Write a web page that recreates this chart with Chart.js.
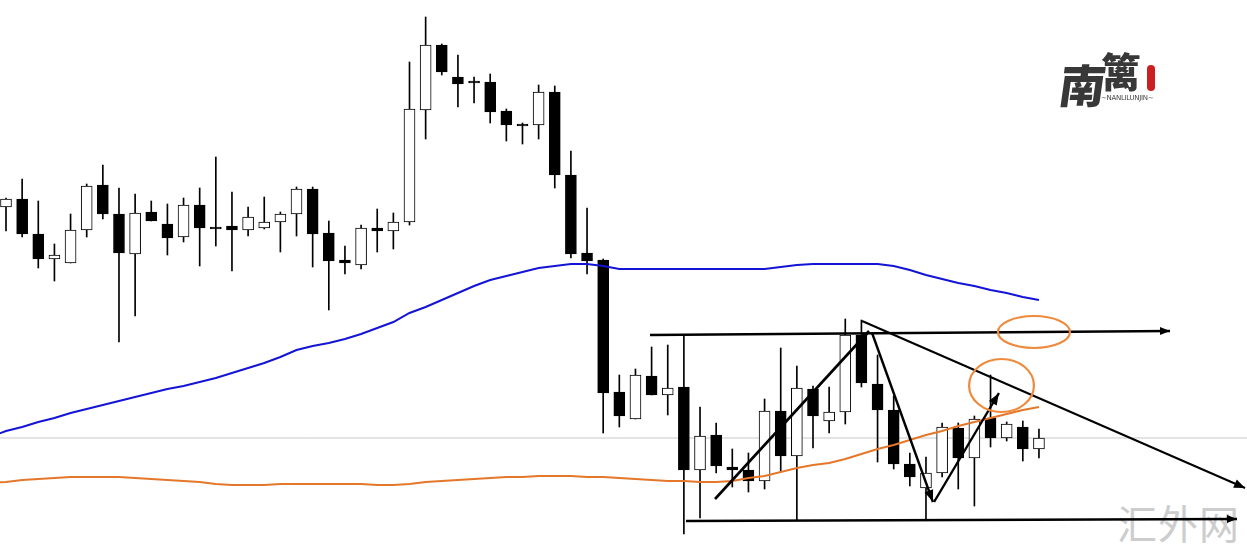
<!DOCTYPE html>
<html><head><meta charset="utf-8">
<script src="https://cdn.jsdelivr.net/npm/chart.js@4"></script>
<style>
html,body{margin:0;padding:0;background:#fff;}
#wrap{position:relative;width:1247px;height:558px;overflow:hidden;background:#fff;}
#c{position:absolute;left:0;top:0;z-index:1;}
.wm{position:absolute;left:1117px;top:500px;font:40px "Noto Sans CJK SC";color:#cdcdcd;z-index:0;letter-spacing:1px;line-height:1.1;}
.c1{position:absolute;left:1060px;top:60px;font:900 46px "Noto Sans CJK SC";color:#383838;z-index:2;line-height:1;transform:skewX(-8deg);}
.c2{position:absolute;left:1101px;top:50px;font:900 40px "Noto Sans CJK SC";color:#383838;z-index:2;line-height:1;}
.sub{position:absolute;left:1101px;top:94px;font:7px "DejaVu Sans";color:#444;z-index:2;letter-spacing:-0.3px;background:#fff;}
.seal{position:absolute;left:1147px;top:65px;width:8px;height:26px;background:#cc1f1f;border-radius:4px;z-index:2;}
</style></head>
<body>
<div id="wrap">
  <div class="wm">汇外网</div>
  <canvas id="c" width="1247" height="558"></canvas>
  <div class="c1">南</div>
  <div class="c2">篱</div>
  <div class="sub">~NANLILUNJIN~</div>
  <div class="seal"></div>
</div>
<script>
// ---- candle data (OHLC), one entry per bar ----
const open  = [1.1351,1.1359,1.1324,1.1299,1.1295,1.1328,1.1373,1.1344,1.1304,1.1346,1.1334,1.1321,1.1353,1.1331,1.1332,1.1328,1.1330,1.1336,1.1344,1.1369,1.1325,1.1298,1.1293,1.1330,1.1327,1.1336,1.1448,1.1513,1.1481,1.1477,1.1476,1.1447,1.1434,1.1433,1.1466,1.1383,1.1305,1.1298,1.1166,1.1139,1.1182,1.1163,1.1171,1.1088,1.1123,1.1091,1.1088,1.1077,1.1147,1.1102,1.1169,1.1137,1.1146,1.1223,1.1174,1.1148,1.1094,1.1070,1.1085,1.1130,1.1100,1.1140,1.1120,1.1131,1.1109];
const high  = [1.1360,1.1379,1.1357,1.1314,1.1344,1.1374,1.1393,1.1370,1.1364,1.1357,1.1354,1.1360,1.1370,1.1401,1.1366,1.1351,1.1361,1.1346,1.1371,1.1371,1.1337,1.1312,1.1333,1.1349,1.1345,1.1496,1.1541,1.1514,1.1503,1.1481,1.1484,1.1449,1.1435,1.1473,1.1472,1.1407,1.1350,1.1299,1.1183,1.1189,1.1211,1.1213,1.1222,1.1151,1.1135,1.1109,1.1105,1.1159,1.1210,1.1192,1.1172,1.1171,1.1239,1.1238,1.1203,1.1162,1.1105,1.1101,1.1135,1.1135,1.1142,1.1183,1.1136,1.1137,1.1129];
const low   = [1.1327,1.1321,1.1290,1.1277,1.1295,1.1321,1.1339,1.1216,1.1242,1.1337,1.1303,1.1316,1.1292,1.1312,1.1287,1.1322,1.1329,1.1306,1.1322,1.1291,1.1248,1.1284,1.1289,1.1306,1.1309,1.1333,1.1419,1.1483,1.1451,1.1455,1.1435,1.1417,1.1414,1.1419,1.1370,1.1300,1.1284,1.1125,1.1131,1.1139,1.1163,1.1143,1.1024,1.1040,1.1085,1.1071,1.1066,1.1069,1.1087,1.1038,1.1110,1.1125,1.1134,1.1171,1.1096,1.1089,1.1072,1.1038,1.1081,1.1069,1.1052,1.1111,1.1117,1.1097,1.1100];
const close = [1.1359,1.1324,1.1299,1.1303,1.1328,1.1372,1.1344,1.1305,1.1345,1.1337,1.1320,1.1353,1.1330,1.1329,1.1328,1.1341,1.1336,1.1344,1.1369,1.1324,1.1297,1.1295,1.1330,1.1327,1.1336,1.1449,1.1513,1.1486,1.1474,1.1475,1.1446,1.1433,1.1432,1.1466,1.1383,1.1304,1.1297,1.1165,1.1142,1.1183,1.1163,1.1170,1.1088,1.1122,1.1092,1.1088,1.1077,1.1147,1.1102,1.1170,1.1142,1.1146,1.1223,1.1175,1.1148,1.1094,1.1081,1.1085,1.1131,1.1100,1.1139,1.1120,1.1134,1.1109,1.1120];

// ---- moving averages (start one bar before the first visible candle) ----
const maStart = -1;
const slowMA = [1.1121,1.1127,1.1131,1.1136,1.1140,1.1145,1.1149,1.1153,1.1157,1.1161,1.1165,1.1169,1.1172,1.1176,1.1180,1.1185,1.1190,1.1195,1.1201,1.1208,1.1212,1.1215,1.1219,1.1224,1.1230,1.1236,1.1245,1.1251,1.1258,1.1265,1.1272,1.1278,1.1282,1.1286,1.1290,1.1292,1.1294,1.1294,1.1292,1.1289,1.1289,1.1289,1.1289,1.1289,1.1289,1.1289,1.1289,1.1289,1.1289,1.1291,1.1293,1.1294,1.1294,1.1294,1.1294,1.1294,1.1292,1.1288,1.1283,1.1279,1.1275,1.1272,1.1268,1.1265,1.1261,1.1258];
const fastMA = [1.1075,1.1076,1.1078,1.1079,1.1080,1.1081,1.1081,1.1081,1.1081,1.1080,1.1079,1.1078,1.1077,1.1076,1.1074,1.1073,1.1073,1.1073,1.1074,1.1074,1.1074,1.1074,1.1074,1.1074,1.1073,1.1073,1.1074,1.1076,1.1077,1.1078,1.1079,1.1080,1.1081,1.1081,1.1082,1.1082,1.1082,1.1081,1.1081,1.1080,1.1079,1.1078,1.1077,1.1077,1.1076,1.1076,1.1077,1.1080,1.1082,1.1086,1.1090,1.1093,1.1095,1.1099,1.1104,1.1109,1.1113,1.1118,1.1123,1.1127,1.1132,1.1136,1.1140,1.1144,1.1148,1.1151];

// ---- drawn annotations: [bar index, price] end points ----
const lastPrice = 1.1120;
const resistanceLine = [[39.90,1.1223],[72.12,1.1227]];
const supportLine    = [[42.13,1.1037],[76.27,1.1039]];
const downTrendLine  = [[53.04,1.1237],[76.77,1.1070]];
const swingUp1       = [[43.93,1.1059],[53.47,1.1227]];
const swingDown      = [[53.66,1.1225],[57.43,1.1056]];
const swingUp2       = [[57.50,1.1056],[61.52,1.1165]];
// ellipses: [fromIndex, toIndex, lowPrice, highPrice]
const ellipses = [[61.46,65.92,1.1210,1.1242],[59.67,63.69,1.1146,1.1199]];

const xMin = -0.372, xMax = 76.89, yMin = 1.1000, yMax = 1.1558;

const idx = open.map((_, i) => i);
const bull = idx.map(i => close[i] >= open[i]);
const pts = a => a.map(p => ({x: p[0], y: p[1]}));

const arrowPlugin = {
  id: 'arrows',
  afterDatasetsDraw(chart) {
    const ctx = chart.ctx;
    chart.data.datasets.forEach((ds, i) => {
      if (!ds.arrow) return;
      const el = chart.getDatasetMeta(i).data;
      const a = el[el.length - 2], b = el[el.length - 1];
      const ang = Math.atan2(b.y - a.y, b.x - a.x);
      const L = ds.head || 11, W = ds.headW || 4.5;
      const bx = b.x - L * Math.cos(ang), by = b.y - L * Math.sin(ang);
      ctx.save();
      ctx.fillStyle = '#000';
      ctx.beginPath();
      ctx.moveTo(b.x, b.y);
      ctx.lineTo(bx - W * Math.sin(ang), by + W * Math.cos(ang));
      ctx.lineTo(bx + W * Math.sin(ang), by - W * Math.cos(ang));
      ctx.closePath();
      ctx.fill();
      ctx.restore();
    });
    const xs = chart.scales.x, ys = chart.scales.y;
    ctx.save();
    ctx.strokeStyle = '#ef8a3d';
    ctx.lineWidth = 2.2;
    ellipses.forEach(e => {
      const x1 = xs.getPixelForValue(e[0]), x2 = xs.getPixelForValue(e[1]);
      const y1 = ys.getPixelForValue(e[2]), y2 = ys.getPixelForValue(e[3]);
      ctx.beginPath();
      ctx.ellipse((x1 + x2) / 2, (y1 + y2) / 2, Math.abs(x2 - x1) / 2, Math.abs(y2 - y1) / 2, 0, 0, Math.PI * 2);
      ctx.stroke();
    });
    ctx.restore();
  }
};

const lineDs = (label, data, w, extra) => Object.assign({
  type: 'line', label, data: pts(data), borderColor: '#000', borderWidth: w,
  pointRadius: 0, fill: false, tension: 0, order: 0, clip: false
}, extra || {});

new Chart(document.getElementById('c'), {
  type: 'bar',
  data: {
    datasets: [
      lineDs('resistance', resistanceLine, 2.3, {arrow: true, head: 10, headW: 4}),
      lineDs('support', supportLine, 2.3, {arrow: true, head: 10, headW: 4}),
      lineDs('down trend', downTrendLine, 2, {arrow: true, head: 11, headW: 4.5}),
      lineDs('swing up 1', swingUp1, 2.6, {arrow: true, head: 12, headW: 4.5}),
      lineDs('swing down', swingDown, 2.4, {arrow: true, head: 12, headW: 4.5}),
      lineDs('swing up 2', swingUp2, 2.4, {arrow: true, head: 12, headW: 4.5}),
      {type: 'line', label: 'fast MA', data: fastMA.map((v, k) => ({x: k + maStart, y: v})),
       borderColor: '#e5772a', borderWidth: 2, pointRadius: 0, tension: 0, order: 1},
      {type: 'line', label: 'slow MA', data: slowMA.map((v, k) => ({x: k + maStart, y: v})),
       borderColor: '#1414d6', borderWidth: 2, pointRadius: 0, tension: 0, order: 1},
      {type: 'bar', label: 'body', data: idx.map(i => ({x: i, y: [open[i], close[i]]})),
       backgroundColor: idx.map(i => bull[i] ? '#ffffff' : '#000000'), borderColor: '#000',
       borderWidth: 1, borderSkipped: false, barThickness: 11, grouped: false, order: 3},
      {type: 'bar', label: 'wick', data: idx.map(i => ({x: i, y: [low[i], high[i]]})),
       backgroundColor: '#000', borderWidth: 0, barThickness: 1, grouped: false, order: 4},
      {type: 'line', label: 'last price', data: [{x: xMin, y: lastPrice}, {x: xMax, y: lastPrice}],
       borderColor: '#c8c8c8', borderWidth: 1, pointRadius: 0, order: 5}
    ]
  },
  options: {
    responsive: false, animation: false, events: [],
    layout: {padding: 0},
    plugins: {legend: {display: false}, tooltip: {enabled: false}},
    scales: {
      x: {type: 'linear', min: xMin, max: xMax, offset: false, display: false},
      y: {type: 'linear', min: yMin, max: yMax, display: false}
    }
  },
  plugins: [arrowPlugin]
});
</script>
</body></html>
